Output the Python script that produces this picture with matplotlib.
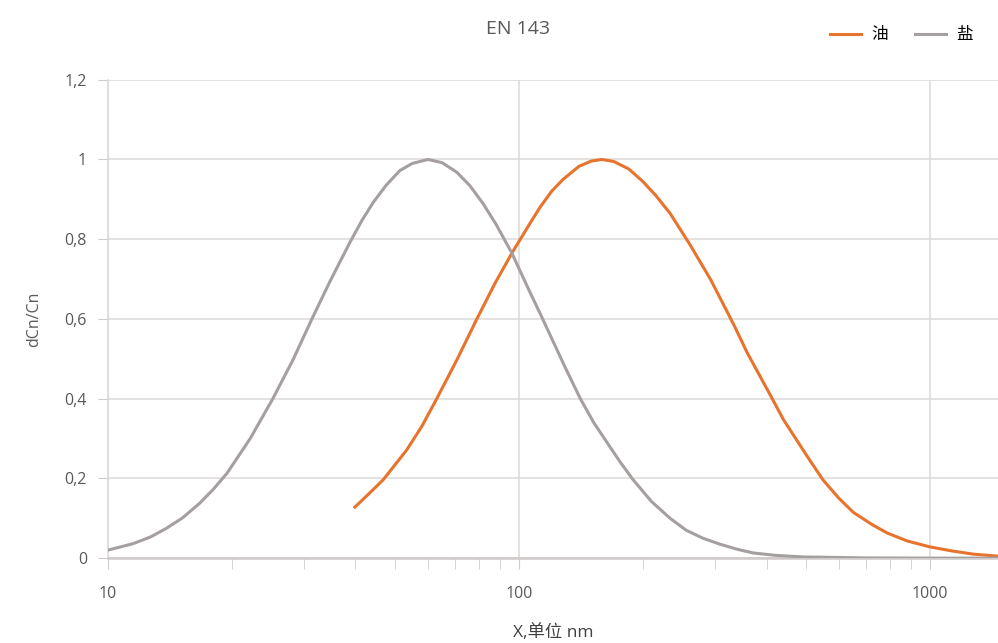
import numpy as np
import matplotlib
matplotlib.use('Agg')
import matplotlib.pyplot as plt
from matplotlib.ticker import FixedLocator, NullFormatter

#%% Data (x in nm, y = dCn/Cn)

salt_x = [10, 11.5, 12.7, 13.9, 15.2, 16.7, 18, 19.5, 22.2, 25.2, 28.2, 31.3, 34.7,
          38.8, 41.5, 44.2, 47.5, 51.3, 55, 60.1, 65, 70.6, 76, 81.7, 88, 96.1, 106,
          113, 119, 130, 141, 152, 164, 176, 189, 210, 233, 255, 280, 308, 340, 371,
          420, 491, 700, 1000, 1462]
salt_y = [0.02, 0.036, 0.053, 0.075, 0.101, 0.137, 0.171, 0.213, 0.3, 0.4, 0.497, 0.598,
          0.694, 0.792, 0.847, 0.892, 0.935, 0.972, 0.99, 1.0, 0.992, 0.968, 0.934, 0.89,
          0.837, 0.765, 0.67, 0.61, 0.56, 0.475, 0.4, 0.34, 0.289, 0.242, 0.198, 0.142,
          0.1, 0.07, 0.05, 0.035, 0.022, 0.013, 0.007, 0.003, 0.0005, 0.0, 0.0]

oil_x = [39.9, 43, 46.7, 53.3, 58, 63.1, 70.6, 79, 87.5, 96.1, 106.4, 112.5, 120, 128,
         140, 150, 159, 170, 185, 200, 215, 233, 261, 292, 310, 335, 359, 408, 440, 475,
         510, 549, 600, 650, 720, 786, 880, 1000, 1130, 1273, 1462]
oil_y = [0.128, 0.16, 0.196, 0.271, 0.33, 0.4, 0.497, 0.6, 0.69, 0.765, 0.84, 0.88,
         0.92, 0.95, 0.983, 0.996, 1.0, 0.995, 0.976, 0.945, 0.91, 0.865, 0.785, 0.7,
         0.648, 0.58, 0.515, 0.41, 0.347, 0.294, 0.245, 0.196, 0.15, 0.115, 0.085,
         0.063, 0.043, 0.028, 0.018, 0.01, 0.005]

y_ticks = [0, 0.2, 0.4, 0.6, 0.8, 1.0, 1.2]
y_labels = ['0', '0,2', '0,4', '0,6', '0,8', '1', '1,2']
x_ticks = [10, 100, 1000]
x_labels = ['10', '100', '1000']

#%% Plot

fonts = ['Open Sans', 'Noto Sans CJK SC', 'DejaVu Sans']
plt.rcParams['font.family'] = fonts
txt = '#595959'

fig = plt.figure(figsize=(9.98, 6.43), dpi=100)
ax = fig.add_axes([0.108, 0.132, 0.892, 0.744])

ax.plot(oil_x, oil_y, color='#e8732c', lw=2.2, label='油', zorder=3,
        solid_joinstyle='round')
ax.plot(salt_x, salt_y, color='#a59f9f', lw=2.2, label='盐', zorder=3,
        solid_joinstyle='round')

ax.set_xscale('log')
ax.set_xlim(10, 1462)
ax.set_ylim(0, 1.2)

ax.set_yticks(y_ticks)
ax.set_yticklabels(y_labels)
ax.set_xticks(x_ticks)
ax.set_xticklabels(x_labels)
minors = [m * d for d in (10, 100, 1000) for m in range(2, 10) if m * d < 1462]
ax.xaxis.set_minor_locator(FixedLocator(minors))
ax.xaxis.set_minor_formatter(NullFormatter())

ax.grid(True, which='major', color='#dcd8d8', lw=1.1)
ax.set_axisbelow(True)
for s in ['top', 'right']:
    ax.spines[s].set_visible(False)
ax.spines['left'].set_color('#dcd8d8')
ax.spines['left'].set_linewidth(1.1)
ax.spines['bottom'].set_color('#cfc9c9')
ax.spines['bottom'].set_linewidth(1.8)

ax.tick_params(axis='y', which='major', length=7, color='#d0cbcb', labelsize=11.5,
               labelcolor=txt, pad=8)
ax.tick_params(axis='x', which='major', length=8, color='#d0cbcb', labelsize=11.5,
               labelcolor=txt, pad=12)
ax.tick_params(axis='x', which='minor', length=8, color='#d0cbcb')

ax.set_xlabel('X,单位 nm', fontsize=12.5, color='#404040', labelpad=16)
ax.set_ylabel('dCn/Cn', fontsize=11.5, color=txt, labelpad=16)

fig.text(0.519, 0.955, 'EN 143', ha='center', va='center', fontsize=14, color=txt)
fig.legend(loc='center right', bbox_to_anchor=(0.99, 0.945), ncol=2, frameon=False,
           fontsize=12, handlelength=1.9, columnspacing=1.6, handletextpad=0.6)

plt.savefig('out.png', dpi=100)
